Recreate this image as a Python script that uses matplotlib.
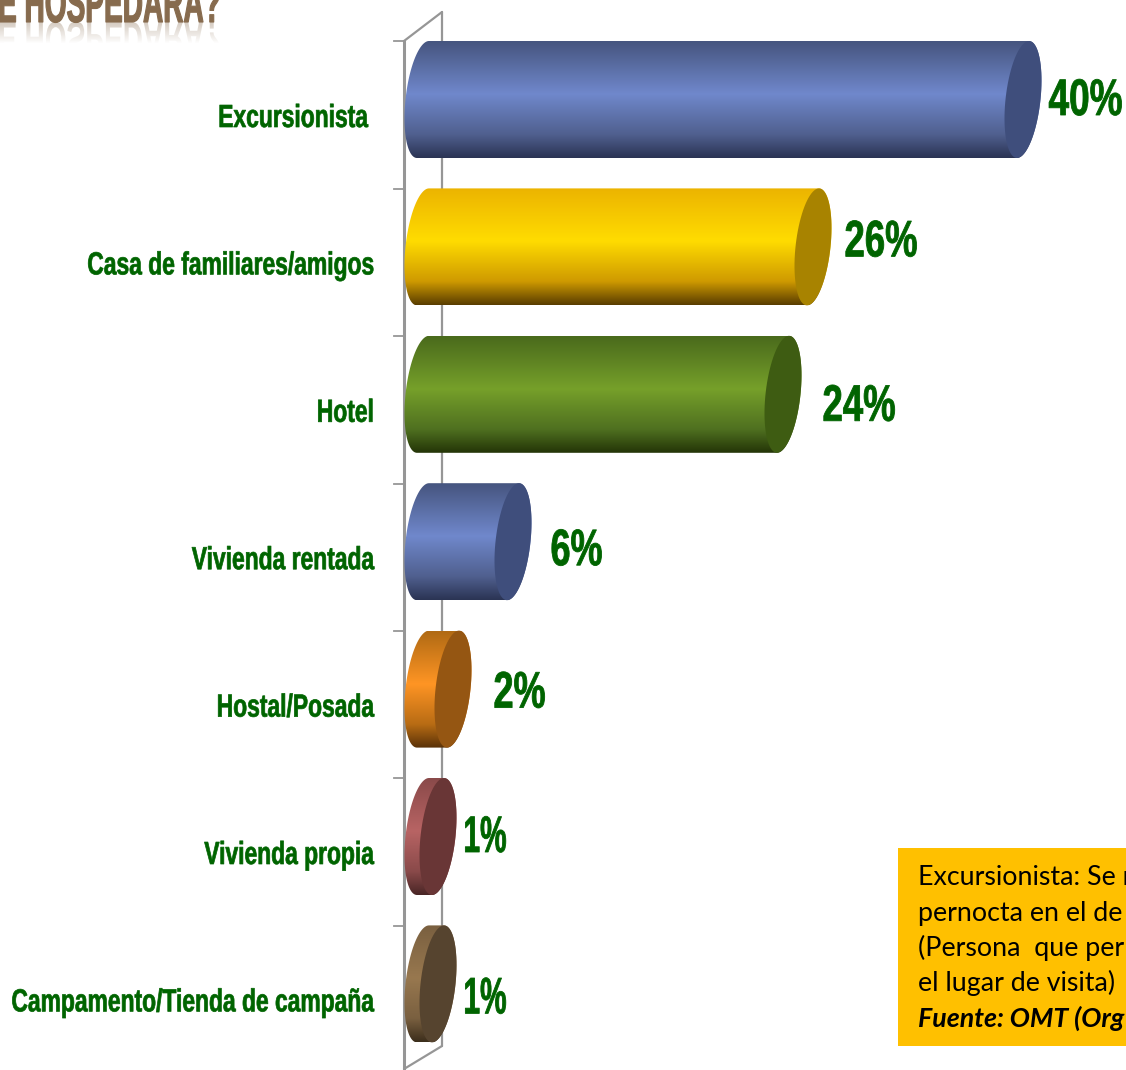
import numpy as np
import matplotlib
matplotlib.use("Agg")
import matplotlib.pyplot as plt
from matplotlib.colors import LinearSegmentedColormap, to_rgb
from matplotlib.font_manager import FontProperties
from matplotlib.patches import PathPatch, Rectangle
from matplotlib.path import Path
from matplotlib.patheffects import AbstractPathEffect
from matplotlib.textpath import TextPath
from matplotlib.transforms import Affine2D

categories = ["Excursionista", "Casa de familiares/amigos", "Hotel", "Vivienda rentada",
              "Hostal/Posada", "Vivienda propia", "Campamento/Tienda de campaña"]
values = [40, 26, 24, 6, 2, 1, 1]
value_labels = ["40%", "26%", "24%", "6%", "2%", "1%", "1%"]

# top, middle, lower, bottom of the cylinder, then the end cap
blue = ["#46557f", "#7088cc", "#50608f", "#2b3454", "#3f4e7c"]
bar_colors = [
    blue,
    ["#ecb400", "#ffdc00", "#cf9a00", "#5a3e00", "#a88300"],
    ["#4a6a1c", "#76a02a", "#4f7020", "#243507", "#3e5c12"],
    blue,
    ["#b06a14", "#ff9524", "#b86c14", "#5a3208", "#955612"],
    ["#8a4a4a", "#b86464", "#8a4a4a", "#4a2626", "#693636"],
    ["#7a6040", "#98784f", "#7a6040", "#3c2e1c", "#56442f"],
]

# hand nudges for the value labels (px): gap after the cap, baseline vs category, text width
label_dx = [7, 13, 21, 19, 22, 7, 7]
label_dy = [0, -6, 11, 8, 3, 0, 14]
label_w = [74, 73, 73, 52, 52, 43, 43]

W, H = 1126, 1070
PX_X = 15.0       # px per percent
X0 = 423.0
PX_Y = 147.4      # px per category
Y0 = 115.0


class Squeeze(AbstractPathEffect):
    # no condensed font installed, so narrow the glyphs around a pixel x
    def __init__(self, sx, x0, bold=0.0):
        self.sx = sx
        self.x0 = x0
        self.bold = bold

    def draw_path(self, renderer, gc, tpath, affine, rgbFace=None):
        squeeze = Affine2D().translate(-self.x0, 0).scale(self.sx, 1).translate(self.x0, 0)
        gc0 = renderer.new_gc()
        gc0.copy_properties(gc)
        if self.bold:
            gc0.set_linewidth(self.bold)
            gc0.set_foreground(rgbFace)
        renderer.draw_path(gc0, tpath, affine + squeeze, rgbFace)
        gc0.restore()


fig = plt.figure(figsize=(W / 100, H / 100), dpi=100, facecolor="white")
ax = fig.add_axes([0, 0, 1, 1])
ax.axis("off")
renderer = fig.canvas.get_renderer()

rx = 17.5 / PX_X
skew = 6.0 / PX_X
ry = 58.5 / PX_Y
shift = 15.5 / PX_Y   # bars sit forward of the labels in the 3D box


def px(x, y):
    return (x - X0) / PX_X, (y - Y0) / PX_Y


def cap_points(cx, cy, a, b):
    th = np.linspace(a, b, 80)
    return np.column_stack([cx + rx * np.cos(th) - skew * np.sin(th), cy + ry * np.sin(th)])


# 3D wall lines
wall = "#969696"
for a, b, lw in [((404, 41), (404, 1070), 2.2), ((442, 12), (442, 1046), 1.6),
                 ((404, 41), (442, 12), 1.6), ((404, 1069), (442, 1046), 1.6)]:
    xa, ya = px(*a)
    xb, yb = px(*b)
    ax.plot([xa, xb], [ya, yb], color=wall, lw=lw, solid_capstyle="round", zorder=1)
for i in range(len(categories) + 1):
    ax.plot([px(394, 0)[0], px(404, 0)[0]], [i - 0.5, i - 0.5], color=wall, lw=1.3, zorder=1)

# cylinders
for i, (v, c) in enumerate(zip(values, bar_colors)):
    yc = i - shift
    outline = np.vstack([cap_points(v, yc, -np.pi / 2, np.pi / 2),
                         cap_points(0, yc, np.pi / 2, 3 * np.pi / 2)])
    body = Path(np.vstack([outline, outline[0]]), closed=True)
    cmap = LinearSegmentedColormap.from_list(
        "cyl", [(0, c[0]), (0.45, c[1]), (0.8, c[2]), (1, c[3])])
    grad = np.linspace(0, 1, 128).reshape(-1, 1)
    im = ax.imshow(grad, cmap=cmap, extent=[-2, v + 2, yc + ry, yc - ry], aspect="auto",
                   interpolation="bilinear", zorder=2)
    im.set_clip_path(PathPatch(body, transform=ax.transData))
    cap = cap_points(v, yc, 0, 2 * np.pi)
    ax.add_patch(PathPatch(Path(cap, closed=True), fc=c[4], ec="none", zorder=4))

# imshow resets these
ax.set_xlim(-X0 / PX_X, (W - X0) / PX_X)
ax.set_ylim((H - Y0) / PX_Y, -Y0 / PX_Y)

green = "#006400"
font = "Liberation Sans"
name_squeeze = 0.715
for i, (name, v, lab) in enumerate(zip(categories, values, value_labels)):
    # category name: right edge at x=374 once squeezed (Excursionista sits a bit left)
    right = 368 if i == 0 else 374
    t = ax.text(0, i + 12 / PX_Y, name, ha="left", va="baseline", color=green, fontsize=23,
                fontweight="bold", family=font, zorder=5)
    left = right - t.get_window_extent(renderer).width * name_squeeze
    t.set_x(px(left, 0)[0])
    t.set_path_effects([Squeeze(name_squeeze, left, bold=0.5)])

    # value label, anchored on its right edge
    cap_right = X0 + v * PX_X + 18.5
    lab_right = cap_right + label_dx[i] + label_w[i]
    t = ax.text(px(lab_right, 0)[0], i + label_dy[i] / PX_Y, lab, ha="right", va="baseline",
                color=green, fontsize=37, fontweight="bold", family=font, zorder=5)
    t.set_path_effects([Squeeze(label_w[i] / t.get_window_extent(renderer).width, lab_right, bold=0.6)])

# title cut off at the top of the crop, with its faded reflection
title = "E HOSPEDARA?"
title_squeeze = 0.505
t = ax.text(*px(-2, 22), title, ha="left", va="baseline", color="#876b4e", fontsize=40,
            fontweight="bold", family=font, zorder=5)
t.set_path_effects([Squeeze(title_squeeze, -2, bold=0.8)])
tp = TextPath((0, 0), title, size=40 * 100 / 72, prop=FontProperties(family=font, weight="bold"))
mirror = Affine2D().scale(title_squeeze, -0.9).translate(-2, H - 22)
fade = np.zeros((32, 1, 4))
fade[..., :3] = to_rgb("#876b4e")
fade[:, 0, 3] = np.linspace(0.35, 0, 32)
x_a, y_a = px(-2, 22)
x_b, y_b = px(230, 44)
im = ax.imshow(fade, extent=[x_a, x_b, y_b, y_a], aspect="auto", interpolation="bilinear", zorder=3)
im.set_clip_path(tp, transform=mirror)
ax.set_xlim(-X0 / PX_X, (W - X0) / PX_X)
ax.set_ylim((H - Y0) / PX_Y, -Y0 / PX_Y)

# note box
bx0, by0 = px(898, 848)
bx1, by1 = px(1126, 1046)
ax.add_patch(Rectangle((bx0, by0), bx1 - bx0, by1 - by0, fc="#ffc000", ec="none", zorder=5))
note_lines = ["Excursionista: Se r", "pernocta en el de", "(Persona  que per", "el lugar de visita)"]
for n, line in enumerate(note_lines):
    ax.text(*px(918, 885 + 35.5 * n), line, color="black", fontsize=19.3, family="Lato", zorder=6,
            va="baseline")
ax.text(*px(918, 1027), "Fuente: OMT (Org", color="black", fontsize=19.3, family="Lato",
        fontweight="bold", style="italic", zorder=6, va="baseline")

fig.savefig("out.png", dpi=100)
plt.close(fig)
